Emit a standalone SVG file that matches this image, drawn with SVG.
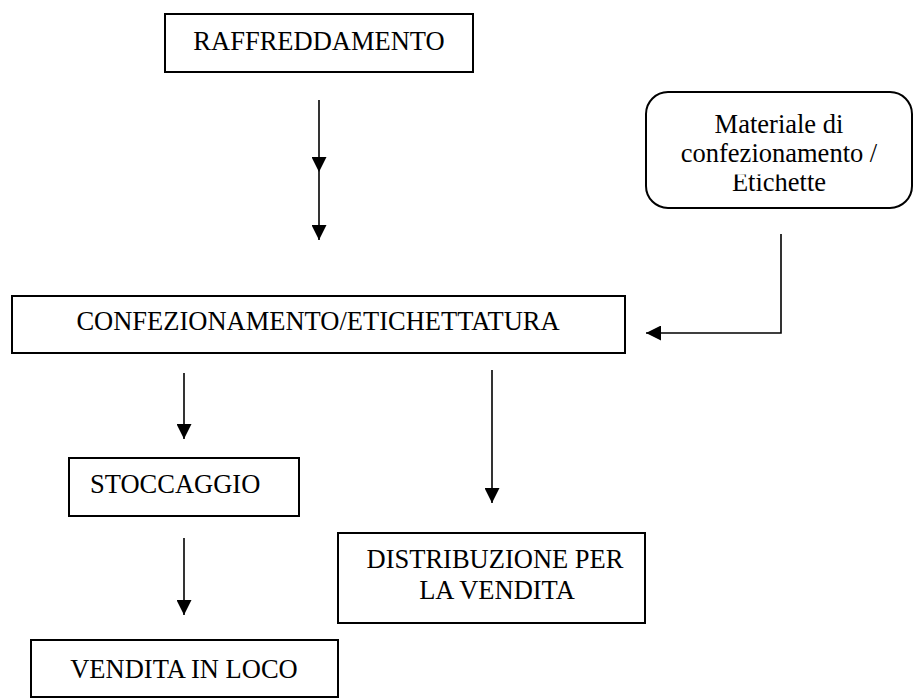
<svg xmlns="http://www.w3.org/2000/svg" width="914" height="698" viewBox="0 0 914 698">
  <style>
    .box { fill: #ffffff; stroke: #000000; stroke-width: 2; }
    .lbl { font-family: "Liberation Serif", "Times New Roman", serif; font-size: 26.5px; fill: #000000; }
    .mid { text-anchor: middle; }
    .edge { fill: none; stroke: #000000; stroke-width: 1.6; marker-end: url(#arrow); }
  </style>
  <defs>
    <marker id="arrow" markerUnits="userSpaceOnUse" markerWidth="16" markerHeight="15" refX="15" refY="7.5" orient="auto">
      <path d="M0,0 L15,7.5 L0,15 Z" fill="#000000"/>
    </marker>
    <!-- the last label line is cut off slightly at the top -->
    <clipPath id="lastLineClip">
      <rect x="646" y="174.5" width="266" height="32"/>
    </clipPath>
  </defs>
  <rect width="914" height="698" fill="#ffffff"/>

  <g id="raffreddamento">
    <rect class="box" x="165" y="14" width="308" height="58"/>
    <text class="lbl mid" x="319" y="50">RAFFREDDAMENTO</text>
  </g>

  <g id="materiale">
    <rect class="box" x="646" y="92" width="266" height="116" rx="22" ry="22"/>
    <text class="lbl mid" x="779" y="133">Materiale di</text>
    <text class="lbl mid" x="779" y="162">confezionamento /</text>
    <text class="lbl mid" x="779" y="191" clip-path="url(#lastLineClip)">Etichette</text>
  </g>

  <g id="confezionamento">
    <rect class="box" x="12" y="296" width="613" height="57"/>
    <text class="lbl mid" x="318" y="330">CONFEZIONAMENTO/ETICHETTATURA</text>
  </g>

  <g id="stoccaggio">
    <rect class="box" x="69" y="458" width="230" height="58"/>
    <text class="lbl" x="90" y="493">STOCCAGGIO</text>
  </g>

  <g id="distribuzione">
    <rect class="box" x="338" y="533" width="307" height="90"/>
    <text class="lbl mid" x="495" y="568">DISTRIBUZIONE PER</text>
    <text class="lbl mid" x="497" y="599">LA VENDITA</text>
  </g>

  <g id="vendita-loco">
    <rect class="box" x="31" y="640" width="307" height="57"/>
    <text class="lbl mid" x="184" y="678">VENDITA IN LOCO</text>
  </g>

  <g id="connectors">
    <path class="edge" d="M319,100 L319,172"/>
    <path class="edge" d="M319,172 L319,240"/>
    <path class="edge" d="M781,234 L781,333 L646,333"/>
    <path class="edge" d="M184,373 L184,439"/>
    <path class="edge" d="M492,370 L492,503"/>
    <path class="edge" d="M184,538 L184,615"/>
  </g>
</svg>
